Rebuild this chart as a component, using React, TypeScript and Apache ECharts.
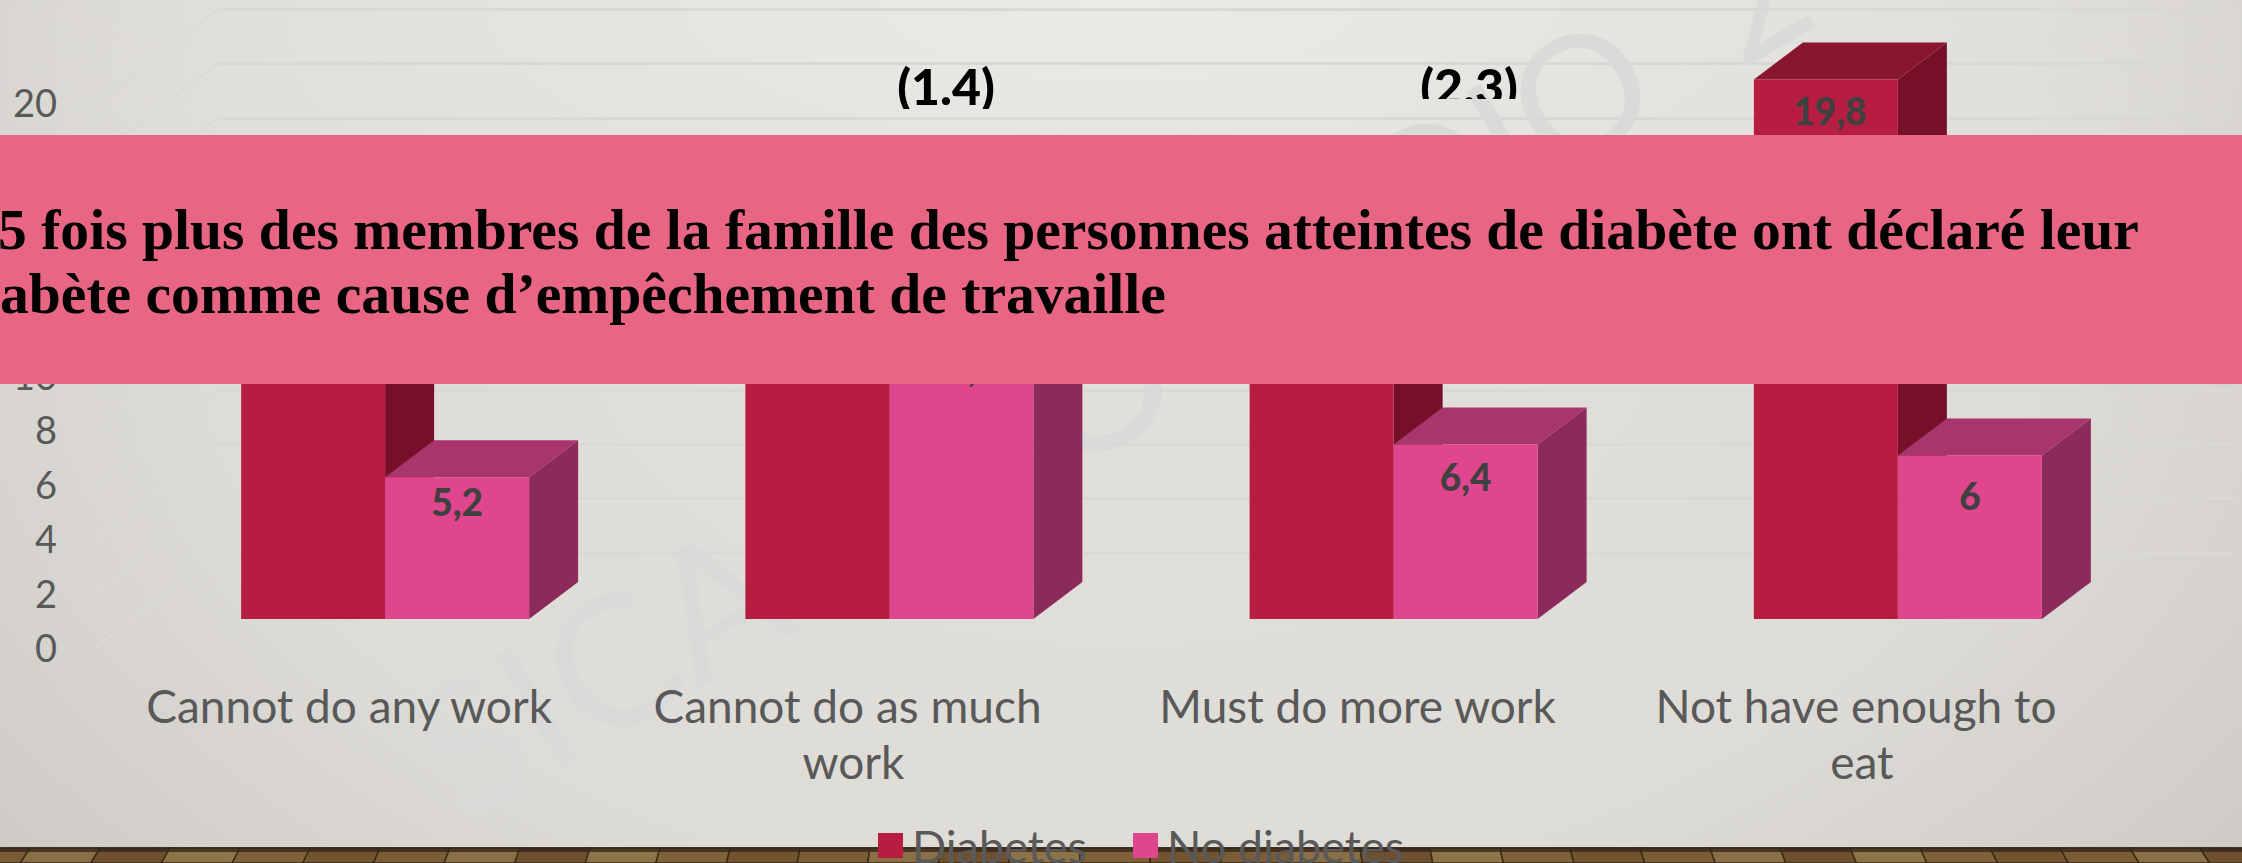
import React, { useEffect, useRef } from "react";
import * as echarts from "echarts";

const categories = ["Cannot do any work", "Cannot do as much work", "Must do more work", "Not have enough to eat"];
const seriesNames = ["Diabetes", "No diabetes"];
const diabetes = [14, 14.1, 14.7, 19.8];
const noDiabetes = [5.2, 10.1, 6.4, 6];
const yTicks = [0, 2, 4, 6, 8, 10, 12, 14, 16, 18, 20];
const oddsRatios = ["(1.4)", "(2.3)"];
const bannerLines = [
  "5 fois plus des membres de la famille des personnes atteintes de diabète ont déclaré leur",
  "abète comme cause d’empêchement de travaille",
];
const watermarkParts = ["SICARDIO", "DIO  2"];

const W = 2242;
const H = 863;
const FONT = "Lato, 'Open Sans', sans-serif";
const SERIF = "'Liberation Serif', serif";
const DEPTH_X = 49;
const DEPTH_Y = 37;
const WALL_X = 122;
const WALL_Y = 94;
const BAR_FRACTION = 144 / 504.3;

const palette = [
  { front: "#B61D41", top: "#8A152F", side: "#76102A" },
  { front: "#E0468E", top: "#A8356C", side: "#8B2A5B" },
];
const labelDrop = [
  [30, 30, 30, 31],
  [24, 24, 32, 40],
];
const labelShown = [
  [false, false, false, true],
  [true, true, true, true],
];

function fmt(v: number) {
  return String(v).replace(".", ",");
}

function barRender(si: number) {
  return (_p: any, api: any) => {
    const idx = api.value(0);
    const v = api.value(1);
    const band = api.size([1, 0])[0];
    const w = band * BAR_FRACTION;
    const base = api.coord([idx, 0]);
    const top = api.coord([idx, v]);
    const x0 = base[0] - w + si * w;
    const x1 = x0 + w;
    const c = palette[si];
    const children: any[] = [
      { type: "polygon", shape: { points: [[x1, top[1]], [x1 + DEPTH_X, top[1] - DEPTH_Y], [x1 + DEPTH_X, base[1] - DEPTH_Y], [x1, base[1]]] }, style: { fill: c.side } },
      { type: "polygon", shape: { points: [[x0, top[1]], [x0 + DEPTH_X, top[1] - DEPTH_Y], [x1 + DEPTH_X, top[1] - DEPTH_Y], [x1, top[1]]] }, style: { fill: c.top } },
      { type: "rect", shape: { x: x0, y: top[1], width: w, height: base[1] - top[1] }, style: { fill: c.front } },
    ];
    if (labelShown[si][idx]) {
      children.push({
        type: "text",
        style: {
          x: (x0 + x1) / 2 + (si === 0 ? 4 : 0),
          y: top[1] + labelDrop[si][idx],
          text: fmt(v),
          font: `900 37px ${FONT}`,
          fill: "#404040",
          align: "center",
          verticalAlign: "middle",
        },
      });
    }
    return { type: "group", children };
  };
}

function floorPlanks() {
  const shades = ["#7A5C36", "#8A6E46", "#6E5030", "#8E7349", "#7E6039", "#725430"];
  const out: any[] = [];
  const step = 70;
  for (let i = -1, x = -40; x < W + step; i++, x += step) {
    const s1 = ((x - W / 2) / (W / 2)) * 10;
    const s2 = ((x + step - W / 2) / (W / 2)) * 10;
    out.push({
      type: "polygon",
      z: -5,
      shape: { points: [[x, 848], [x + step, 848], [x + step + s2, H], [x + s1, H]] },
      style: { fill: shades[(i + 1) % shades.length], stroke: "#3D2A14", lineWidth: 1.5 },
    });
  }
  return out;
}

export default function App() {
  const ref = useRef<HTMLDivElement>(null);
  useEffect(() => {
    document.body.style.margin = "0";
    const chart = echarts.init(ref.current!, undefined, { renderer: "svg" });
    const hiddenAxis = { axisLabel: { show: false }, axisLine: { show: false }, axisTick: { show: false }, splitLine: { show: false } };
    const mkSeries = (si: number, vals: number[]) => ({
      type: "custom",
      name: seriesNames[si],
      xAxisIndex: 2,
      yAxisIndex: 2,
      z: 5 + si,
      itemStyle: { color: palette[si].front },
      renderItem: barRender(si),
      encode: { x: 0, y: 1 },
      data: vals.map((v, i) => [i, v]),
    });
    const tilt = (30 * Math.PI) / 180;
    chart.setOption({
      animation: false,
      grid: [
        { left: 218, width: 2017, top: 9, height: 544 },
        { left: 97, width: 2017, top: 102, height: 545 },
        { left: 133, width: 2017, top: 74, height: 545 },
      ],
      xAxis: [
        { gridIndex: 0, type: "category", data: categories, ...hiddenAxis },
        {
          gridIndex: 1,
          type: "category",
          data: categories,
          axisLine: { show: false },
          axisTick: { show: false },
          axisLabel: {
            color: "#595959",
            fontFamily: FONT,
            fontSize: 46,
            lineHeight: 56,
            margin: 30,
            width: 430,
            overflow: "break",
            interval: 0,
          },
        },
        { gridIndex: 2, type: "category", data: categories, ...hiddenAxis },
      ],
      yAxis: [
        {
          gridIndex: 0,
          type: "value",
          min: 0,
          max: 20,
          interval: 2,
          axisLabel: { show: false },
          axisLine: { show: false },
          axisTick: { show: false },
          splitLine: { show: true, lineStyle: { color: "#D9D8D6", width: 3 } },
        },
        {
          gridIndex: 1,
          type: "value",
          min: 0,
          max: 20,
          interval: 2,
          axisLine: { show: false },
          axisTick: { show: false },
          splitLine: { show: false },
          axisLabel: { color: "#595959", fontFamily: FONT, fontSize: 38, margin: 40 },
        },
        { gridIndex: 2, type: "value", min: 0, max: 20, interval: 2, ...hiddenAxis },
      ],
      legend: {
        show: true,
        left: 878,
        top: 823,
        padding: 0,
        itemWidth: 25,
        itemHeight: 25,
        itemGap: 46,
        selectedMode: false,
        data: seriesNames.map((n) => ({ name: n, icon: "rect" })),
        textStyle: { color: "#595959", fontFamily: FONT, fontSize: 45, padding: [0, 0, 0, 4] },
      },
      graphic: [
        ...floorPlanks(),
        { type: "rect", z: -4, shape: { x: 0, y: 847, width: W, height: 5 }, style: { fill: "#33261A", opacity: 0.75 } },
        {
          type: "text",
          z: -3,
          x: 426,
          y: 765,
          rotation: tilt,
          style: { text: watermarkParts[0], font: `400 182px ${FONT}`, fill: "#DADAD8", verticalAlign: "middle" },
        },
        {
          type: "text",
          z: -3,
          x: 1372,
          y: 209,
          rotation: tilt,
          style: { text: watermarkParts[1], font: `400 165px ${FONT}`, fill: "#DADAD8", verticalAlign: "middle" },
        },
        { type: "rect", z: 100, shape: { x: 0, y: 135, width: W, height: 249 }, style: { fill: "#E86584" } },
        { type: "text", z: 101, style: { x: -2, y: 229, text: bannerLines[0], font: `bold 57.6px ${SERIF}`, fill: "#000", verticalAlign: "middle" } },
        { type: "text", z: 101, style: { x: 0, y: 293, text: bannerLines[1], font: `bold 57.6px ${SERIF}`, fill: "#000", verticalAlign: "middle" } },
      ],
      series: [
        {
          type: "custom",
          xAxisIndex: 0,
          yAxisIndex: 0,
          z: 1,
          silent: true,
          encode: { y: 0 },
          data: yTicks.map((v) => [v]),
          renderItem: (p: any, api: any) => {
            const y = api.coord([0, api.value(0)])[1];
            const x = p.coordSys.x;
            return {
              type: "line",
              shape: { x1: x, y1: y, x2: x - WALL_X, y2: y + WALL_Y },
              style: { stroke: "#DBDAD7", lineWidth: 2 },
            };
          },
        },
        mkSeries(0, diabetes),
        mkSeries(1, noDiabetes),
        {
          type: "custom",
          xAxisIndex: 2,
          yAxisIndex: 2,
          z: 6,
          silent: true,
          encode: { x: 0 },
          data: oddsRatios.map((t, i) => [i + 1]),
          renderItem: (p: any) => {
            const i = p.dataIndex;
            const cx = [946, 1469][i];
            const clip = [[63, 109], [66, 99]][i];
            return {
              type: "text",
              style: { x: cx, y: 86, text: oddsRatios[i], font: `900 50px ${FONT}`, fill: "#000", align: "center", verticalAlign: "middle" },
              clipPath: { type: "rect", shape: { x: cx - 80, y: clip[0], width: 160, height: clip[1] - clip[0] } },
            };
          },
        },
      ],
    });
    return () => chart.dispose();
  }, []);
  return (
    <div
      ref={ref}
      style={{
        position: "absolute",
        left: 0,
        top: 0,
        width: W,
        height: H,
        overflow: "hidden",
        background:
          "radial-gradient(ellipse 1250px 420px at 50% 0%, #ECEAE6 0%, #E3E1DC 60%, rgba(222,220,214,0) 100%), radial-gradient(ellipse 1400px 900px at 50% 35%, #E2E0DB 0%, #DEDCD6 65%, #CFCCC7 100%)",
      }}
    />
  );
}
